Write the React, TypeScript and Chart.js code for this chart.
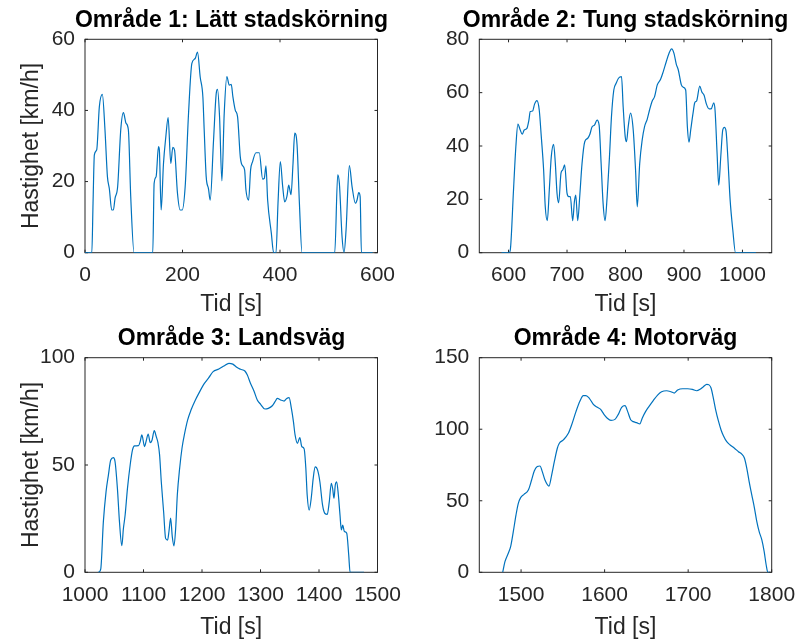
import React, { useEffect, useRef } from 'react';
import { Chart, registerables } from 'chart.js';

Chart.register(...registerables);

// ---------- DATA ----------
const titles = [
  'Område 1: Lätt stadskörning',
  'Område 2: Tung stadskörning',
  'Område 3: Landsväg',
  'Område 4: Motorväg',
];
const xAxisLabel = 'Tid [s]';
const yAxisLabel = 'Hastighet [km/h]';

const time1 = [
  0, 14, 16.5, 19.2, 24, 29.4, 35.6, 41, 46, 50,
  54.8, 58.2, 61.6, 67, 73.3, 78.8, 84.2, 89, 93.8, 100.7,
  139, 141.8, 145.9, 150.7, 152.5, 156.2, 161, 165.8, 170.5, 176,
  180.1, 183.6, 189.7, 195.2, 199.3, 205.5, 212.4, 219.2, 226, 230.8,
  236.3, 241.8, 244.5, 248.6, 253.4, 256.8, 263.7, 269.2, 271.9, 276,
  280.8, 285.6, 291, 295.9, 300, 303.4, 308.2, 313, 318.5, 321.9,
  327.4, 330.1, 335.6, 339.7, 343.8, 350.7, 357.5, 364.4, 367.8, 371.2,
  374.6, 382.2, 387, 391.8, 395.9, 400.7, 405.5, 409.6, 414.4, 417.8,
  422.6, 426.7, 430.2, 435, 439.8, 445.2, 512.3, 518.4, 521.8, 527.3,
  531.4, 535.5, 542.3, 547.8, 554.7, 558.2, 561.5, 564.4, 567, 590,
];
const speed1 = [
  0, 0, 14, 27.5, 28.9, 41, 44.5, 34.5, 21.4, 17.9,
  12, 12, 15.3, 18.6, 34.5, 39.4, 36.4, 34.5, 15.8, 0,
  0, 19.5, 21.4, 29.8, 28.9, 12, 25.1, 32.6, 38, 25.1,
  29.6, 28.9, 16.7, 12, 12, 18.6, 39.2, 53.2, 54.6, 56.4,
  49.4, 43.8, 34.5, 21.4, 17.9, 14.8, 31.7, 44.8, 45.9, 38.2,
  20.2, 39.2, 49.5, 47.1, 47.3, 43.8, 40.1, 38.2, 27, 24.7,
  23.3, 17.7, 14.8, 23.3, 25.6, 28.1, 28.1, 20.7, 20.9, 24.4,
  14.9, 5.5, 0, 0, 13.9, 25.6, 18.6, 14.3, 16, 19,
  16.3, 25.1, 33.6, 30.3, 13.9, 0, 0, 21.9, 19.5, 4.5,
  0, 6.4, 24.5, 18.6, 13.9, 14.9, 16.9, 15.8, 0, 0,
];

const time2 = [
  588, 601, 603, 608.5, 612.5, 616, 620, 623.4, 626.8, 631.4,
  634.8, 637.1, 641.1, 644.5, 648.5, 652.5, 656, 660, 662.8, 666.3,
  669.7, 673.1, 677.1, 680, 682.9, 685.7, 689.7, 692.6, 696, 700,
  702.9, 705.7, 709.7, 712.6, 714.9, 718.3, 721.7, 725.7, 730.3, 735.5,
  738.9, 742.9, 746.9, 751.4, 754.9, 758.3, 761.7, 765.1, 768.6, 772.6,
  776, 780, 784, 788, 793.2, 796, 799.5, 801.7, 804.6, 808.6,
  813.2, 817.2, 820.1, 824.3, 828.5, 832.5, 837.1, 841.1, 845.7, 849.7,
  854.3, 860, 864.6, 869.7, 874.3, 878.9, 882.9, 886.9, 890.3, 895.5,
  898.9, 902.9, 905.8, 908.6, 911.5, 915.5, 918.4, 921.8, 927, 930.4,
  934.4, 938.4, 943, 946.5, 950.9, 953.1, 956.6, 959.4, 962.9, 966.3,
  969.1, 972, 974.9, 978.9, 983.5, 988.1, 1023,
];
const speed2 = [
  0, 0, 1, 23.5, 39.7, 48.2, 46, 44.4, 46, 46.6,
  49.7, 52.9, 53.1, 55.7, 57, 53.5, 43.5, 31, 17.2, 12,
  23.5, 36, 40.6, 33.5, 22.3, 18.7, 29.8, 31, 32.9, 22.3,
  21, 21, 12, 19.1, 21.6, 12, 21, 33.5, 41.6, 42.9,
  44.3, 47.2, 47.8, 49.7, 47.8, 33.5, 18.5, 12, 21, 36,
  51, 61, 63.5, 65.4, 66, 54.7, 43.5, 41.6, 47.2, 52.3,
  46, 31, 17.2, 33.5, 42.2, 47.2, 50, 53.5, 56.9, 58.5,
  62.9, 65, 67.9, 71.6, 74.7, 76.4, 74.7, 70.6, 68.5, 62.9,
  62, 61, 47.2, 41.4, 46, 52.3, 56.2, 57, 62.5, 60.3,
  59, 55.7, 53.9, 53.9, 56.2, 53.5, 37.3, 25.3, 36, 46,
  47, 45.5, 36, 19.8, 8.5, 0, 0,
];

const time3 = [
  1022, 1023, 1026.9, 1031.4, 1036, 1040, 1044, 1048.6, 1051.4, 1055.4,
  1058.9, 1062.9, 1065.7, 1068.6, 1072.6, 1077.2, 1081.2, 1084.6, 1091.5, 1094.3,
  1097.2, 1101.8, 1104.6, 1108, 1111.5, 1114.4, 1118.4, 1121.8, 1124.7, 1127.5,
  1130.4, 1134.4, 1137.8, 1141.2, 1143.5, 1146.4, 1149.2, 1152.1, 1155, 1157.8,
  1161.8, 1165.8, 1170.4, 1175.5, 1181.2, 1188.7, 1196.1, 1204.1, 1211.6, 1219,
  1228.8, 1237.3, 1246, 1252.7, 1260.1, 1265.9, 1273.3, 1277.3, 1283, 1288.8,
  1294.5, 1300.2, 1307.6, 1313.4, 1320.2, 1324.8, 1328.8, 1334.5, 1340.3, 1344.8,
  1348.9, 1352.8, 1356.3, 1359.1, 1363.1, 1367.2, 1370.6, 1374.6, 1377.5, 1379.8,
  1383.2, 1386.7, 1390.1, 1393.5, 1397.5, 1401.5, 1406.1, 1410.1, 1414.1, 1417.6,
  1421, 1423.3, 1425.6, 1427.9, 1430.2, 1433.1, 1435.9, 1438.2, 1440.5, 1443.4,
  1447.4, 1450.8, 1453.1, 1477,
];
const speed3 = [
  0, 0, 1.5, 23.6, 37.6, 45.3, 52.3, 53.4, 51.5, 39.1,
  23.6, 12.4, 20.5, 26.7, 39.1, 50, 57, 58.9, 59, 60.9,
  64, 58.6, 61.2, 64.4, 60.4, 61.4, 66, 63.2, 60.4, 54.7,
  42.2, 28.2, 15.8, 15, 19, 25.2, 16.6, 12.3, 20.5, 36,
  48.5, 57.8, 64.8, 71, 75.6, 80.3, 84.2, 88, 90.7, 93.5,
  94.7, 96.1, 97.4, 97, 95.4, 94.6, 93.8, 92, 88, 84.5,
  80.3, 78.3, 76.1, 76.4, 77.6, 79.5, 81, 80.3, 79.8, 81,
  81.4, 76.4, 70.2, 64, 60.1, 62.8, 58.6, 57.5, 48.5, 36,
  29, 34.5, 43.8, 49.1, 47.7, 42.2, 31.3, 27.4, 27, 32.9,
  41.5, 39.1, 34.5, 40.8, 42.2, 36, 26.7, 19.7, 22, 19,
  18.2, 8.1, 0, 0,
];

const time4 = [
  1478, 1480.7, 1484.7, 1487.5, 1490.7, 1493.9, 1496.7, 1499.5, 1503.5, 1508.7,
  1512.6, 1515.8, 1519.4, 1522.6, 1525.4, 1528.6, 1533.4, 1536.6, 1539.8, 1543.4,
  1545.8, 1550.6, 1556.6, 1560.5, 1565.7, 1570.5, 1574.5, 1577.7, 1581.7, 1586.5,
  1591.2, 1595.2, 1599.2, 1603.2, 1607.6, 1612.4, 1616.4, 1620.4, 1624.4, 1627.6,
  1631.2, 1634.3, 1638.3, 1642.2, 1645, 1649, 1653, 1658.2, 1663.4, 1668.2,
  1674.2, 1679.4, 1683.4, 1687.4, 1693.4, 1699.4, 1705, 1710.2, 1714.2, 1718.2,
  1722.2, 1725, 1727.4, 1730.2, 1733, 1736.2, 1739.4, 1742.2, 1746.2, 1750.2,
  1755.4, 1760.2, 1764.2, 1767.4, 1770.2, 1773, 1776.2, 1779.4, 1782.2, 1785,
  1788.2, 1791, 1793.4, 1795.4, 1798,
];
const speed4 = [
  0, 7.4, 13.3, 17.9, 28.4, 40, 48.2, 52.2, 54.5, 57.5,
  64.5, 70.8, 73.9, 74.3, 70.4, 64.5, 60.3, 68, 77.3, 86.7,
  90.2, 92.5, 97.2, 103, 112.3, 119.7, 123.5, 123.5, 121.6, 117.4,
  115.3, 113.9, 110.4, 107.7, 106.2, 106.9, 110.4, 115.3, 116.5, 112.3,
  106.6, 105.3, 104.6, 103.7, 107.7, 112.3, 115.8, 120, 123.9, 126.2,
  126.9, 126.2, 125.3, 127.4, 128.3, 128.3, 127.9, 126.9, 127.9, 129.7,
  131.4, 131, 128.8, 121.6, 113.4, 105.8, 99.5, 95.5, 91.3, 89,
  86.7, 84.3, 82.6, 79.7, 72.7, 63.4, 54, 44.7, 35.4, 28.4,
  22.6, 14.4, 5.1, 0, 0,
];

const xTicks1 = [0, 200, 400, 600];
const yTicks1 = [0, 20, 40, 60];
const xTicks2 = [600, 700, 800, 900, 1000];
const yTicks2 = [0, 20, 40, 60, 80];
const xTicks3 = [1000, 1100, 1200, 1300, 1400, 1500];
const yTicks3 = [0, 50, 100];
const xTicks4 = [1500, 1600, 1700, 1800];
const yTicks4 = [0, 50, 100, 150];

const xRange1 = [0, 600];
const yRange1 = [0, 60];
const xRange2 = [550, 1050];
const yRange2 = [0, 80];
const xRange3 = [1000, 1500];
const yRange3 = [0, 100];
const xRange4 = [1450, 1800];
const yRange4 = [0, 150];

// ---------- STYLE / LAYOUT ----------
const FONT = "'Liberation Sans', Arial, Helvetica, sans-serif";
const LINE_COLOR = '#0072BD';
const AXIS_COLOR = '#262626';
const TICK_SIZE = 21;
const LABEL_SIZE = 23;

type Layout = {
  left: number; top: number; width: number; height: number;
  yAxisW: number; plotW: number;
  titlePadTop: number; titlePadBottom: number;
  xAxisH: number; xTitlePadBottom: number;
  showYLabel: boolean;
};

const layouts: Layout[] = [
  { left: 0, top: 0, width: 463, height: 321, yAxisW: 85, plotW: 292.5, titlePadTop: 6.5, titlePadBottom: 5.2, xAxisH: 68.3, xTitlePadBottom: 2.2, showYLabel: true },
  { left: 419, top: 0, width: 413, height: 321, yAxisW: 60.3, plotW: 292.4, titlePadTop: 6.5, titlePadBottom: 5.2, xAxisH: 68.3, xTitlePadBottom: 2.2, showYLabel: false },
  { left: 0, top: 321, width: 463, height: 321, yAxisW: 85, plotW: 292.5, titlePadTop: 3.9, titlePadBottom: 5.2, xAxisH: 69.7, xTitlePadBottom: 0.8, showYLabel: true },
  { left: 419, top: 321, width: 413, height: 321, yAxisW: 60.3, plotW: 292.4, titlePadTop: 3.9, titlePadBottom: 5.2, xAxisH: 69.7, xTitlePadBottom: 0.8, showYLabel: false },
];

const panelData = [
  { title: titles[0], time: time1, speed: speed1, xr: xRange1, yr: yRange1, xt: xTicks1, yt: yTicks1 },
  { title: titles[1], time: time2, speed: speed2, xr: xRange2, yr: yRange2, xt: xTicks2, yt: yTicks2 },
  { title: titles[2], time: time3, speed: speed3, xr: xRange3, yr: yRange3, xt: xTicks3, yt: yTicks3 },
  { title: titles[3], time: time4, speed: speed4, xr: xRange4, yr: yRange4, xt: xTicks4, yt: yTicks4 },
];

const boxPlugin = {
  id: 'matlabBox',
  beforeDatasetsDraw(chart: any) {
    const { ctx, chartArea } = chart;
    const { left, right, top, bottom } = chartArea;
    const xs = chart.scales.x;
    const ys = chart.scales.y;
    const tl = 3;
    ctx.save();
    ctx.strokeStyle = AXIS_COLOR;
    ctx.lineWidth = 1;
    ctx.strokeRect(left, top, right - left, bottom - top);
    ctx.beginPath();
    xs.ticks.forEach((t: any) => {
      const px = xs.getPixelForValue(t.value);
      ctx.moveTo(px, bottom);
      ctx.lineTo(px, bottom - tl);
      ctx.moveTo(px, top);
      ctx.lineTo(px, top + tl);
    });
    ys.ticks.forEach((t: any) => {
      const py = ys.getPixelForValue(t.value);
      ctx.moveTo(left, py);
      ctx.lineTo(left + tl, py);
      ctx.moveTo(right, py);
      ctx.lineTo(right - tl, py);
    });
    ctx.stroke();
    ctx.restore();
  },
};

function Panel({ idx }: { idx: number }) {
  const ref = useRef<HTMLCanvasElement | null>(null);
  const L = layouts[idx];
  const D = panelData[idx];

  useEffect(() => {
    if (!ref.current) return;
    const rightW = L.width - L.yAxisW - L.plotW;
    const chart = new Chart(ref.current, {
      type: 'line',
      data: {
        datasets: [
          {
            data: D.time.map((t, i) => ({ x: t, y: D.speed[i] })),
            borderColor: LINE_COLOR,
            borderWidth: 1.2,
            pointRadius: 0,
            fill: false,
            cubicInterpolationMode: 'monotone',
            xAxisID: 'x',
            yAxisID: 'y',
          } as any,
        ],
      },
      options: {
        responsive: false,
        animation: false,
        events: [],
        layout: { padding: 0 },
        plugins: {
          legend: { display: false },
          tooltip: { enabled: false },
          title: {
            display: true,
            text: D.title,
            color: '#000000',
            fullSize: true,
            font: { family: FONT, size: LABEL_SIZE, weight: 'bold' },
            padding: { top: L.titlePadTop, bottom: L.titlePadBottom },
          },
        },
        scales: {
          x: {
            type: 'linear',
            position: 'bottom',
            min: D.xr[0],
            max: D.xr[1],
            afterBuildTicks: (s: any) => {
              s.ticks = D.xt.map((v) => ({ value: v }));
            },
            afterFit: (s: any) => {
              s.height = L.xAxisH;
            },
            grid: { display: false, drawTicks: false },
            border: { display: false },
            ticks: {
              color: AXIS_COLOR,
              font: { family: FONT, size: TICK_SIZE },
              padding: 10,
              maxRotation: 0,
              minRotation: 0,
              autoSkip: false,
              callback: (v: any) => String(v),
            },
            title: {
              display: true,
              text: xAxisLabel,
              color: AXIS_COLOR,
              font: { family: FONT, size: LABEL_SIZE },
              padding: { top: 0, bottom: L.xTitlePadBottom },
            },
          },
          y: {
            type: 'linear',
            position: 'left',
            min: D.yr[0],
            max: D.yr[1],
            afterBuildTicks: (s: any) => {
              s.ticks = D.yt.map((v) => ({ value: v }));
            },
            afterFit: (s: any) => {
              s.width = L.yAxisW;
            },
            grid: { display: false, drawTicks: false },
            border: { display: false },
            ticks: {
              color: AXIS_COLOR,
              font: { family: FONT, size: TICK_SIZE },
              padding: 10,
              autoSkip: false,
              callback: (v: any) => String(v),
            },
            title: {
              display: L.showYLabel,
              text: yAxisLabel,
              color: AXIS_COLOR,
              font: { family: FONT, size: LABEL_SIZE },
              padding: { top: 32 - (LABEL_SIZE * 1.2) / 2, bottom: 0 },
            },
          },
          yr: {
            type: 'linear',
            position: 'right',
            display: true,
            ticks: { display: false },
            grid: { display: false, drawTicks: false },
            border: { display: false },
            afterFit: (s: any) => {
              s.width = rightW;
            },
          },
        },
      } as any,
      plugins: [boxPlugin],
    });
    return () => chart.destroy();
  }, [idx]);

  return (
    <canvas
      ref={ref}
      width={L.width}
      height={L.height}
      style={{ position: 'absolute', left: L.left, top: L.top, width: L.width, height: L.height }}
    />
  );
}

export default function App() {
  return (
    <div
      style={{
        position: 'fixed',
        left: 0,
        top: 0,
        width: 797,
        height: 642,
        overflow: 'hidden',
        background: '#ffffff',
      }}
    >
      {[0, 1, 2, 3].map((i) => (
        <Panel key={i} idx={i} />
      ))}
    </div>
  );
}
